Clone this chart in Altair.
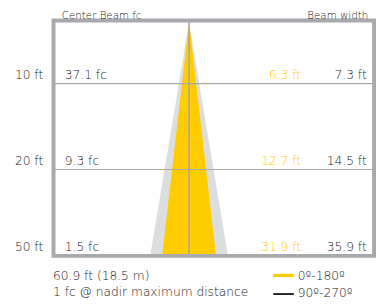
import altair as alt
import pandas as pd

# ---- data ----
levels = [1, 2, 3]
distance_labels = ["10 ft", "20 ft", "50 ft"]
center_fc = ["37.1 fc", "9.3 fc", "1.5 fc"]
width_0_180 = ["6.3 ft", "12.7 ft", "31.9 ft"]
width_90_270 = ["7.3 ft", "14.5 ft", "35.9 ft"]

# schematic beam cones (diagram units): apex level and bottom level, half spreads
beam_level = [0.285, 3.006]
half_0_180 = [0, 27.5]
half_90_270 = [0, 39.7]

max_distance_text = "60.9 ft (18.5 m)"
max_distance_note = "1 fc @ nadir maximum distance"
legend_labels = ["0º-180º", "90º-270º"]

# ---- styling ----
FONT = "DejaVu Sans ExtraLight, DejaVu Sans Light, DejaVu Sans"
FS = 12.5
FW = 200
TXT = "#1a1a1a"
YEL = "#FFCC00"
GRY = "#DCDDDE"
FRAME = "#A7A9AC"
W, H = 327.5, 240.5

xs = alt.Scale(domain=[-138.5, 189], nice=False, zero=False)
ys = alt.Scale(domain=[0.265, 3.006], reverse=True, nice=False, zero=False)

rows = pd.DataFrame({
    "level": levels,
    "dist": distance_labels,
    "fc": center_fc,
    "w1": width_0_180,
    "w2": width_90_270,
})

beam_gray = pd.DataFrame({
    "level": beam_level,
    "left": [-h for h in half_90_270],
    "right": half_90_270,
})
beam_yel = pd.DataFrame({
    "level": beam_level,
    "left": [-h for h in half_0_180],
    "right": half_0_180,
})
one = pd.DataFrame({"k": [0]})

gray_area = alt.Chart(beam_gray).mark_area(orient="horizontal", color=GRY).encode(
    y=alt.Y("level:Q", scale=ys, axis=None),
    x=alt.X("left:Q", scale=xs, axis=None),
    x2="right:Q",
)
yel_area = alt.Chart(beam_yel).mark_area(orient="horizontal", color=YEL).encode(
    y=alt.Y("level:Q", scale=ys, axis=None),
    x=alt.X("left:Q", scale=xs, axis=None),
    x2="right:Q",
)

grid = alt.Chart(rows).transform_filter("datum.level < 3").mark_rule(
    color="#A9A9A9", strokeWidth=1.2
).encode(y=alt.Y("level:Q", scale=ys, axis=None))

center = alt.Chart(one).mark_rule(color="#A3A3A3", strokeWidth=1.6, opacity=0.9).encode(
    x=alt.datum(0, scale=xs),
)

frame = alt.Chart(one).mark_rect(filled=False, stroke=FRAME, strokeWidth=4).encode(
    x=alt.value(0), x2=alt.value(W), y=alt.value(0), y2=alt.value(H)
)

def row_text(field, xpos, align, color):
    return alt.Chart(rows).mark_text(
        align=align, baseline="alphabetic", dy=-4.5, font=FONT, fontSize=FS,
        fontWeight=FW, color=color
    ).encode(
        x=alt.value(xpos),
        y=alt.Y("level:Q", scale=ys, axis=None),
        text=f"{field}:N",
    )

def static_text(txt, xpos, ypos, align, color=TXT, size=FS):
    return alt.Chart(one).mark_text(
        align=align, baseline="alphabetic", font=FONT, fontSize=size,
        fontWeight=FW, color=color, text=txt
    ).encode(x=alt.value(xpos), y=alt.value(ypos))

t_dist = row_text("dist", -10.5, "right", TXT)
t_fc = row_text("fc", 11.5, "left", TXT)
t_w1 = row_text("w1", 253, "right", YEL)
t_w2 = row_text("w2", 320, "right", TXT)

t_head1 = static_text("Center Beam fc", 8.5, -2.0, "left", size=10.5)
t_head2 = static_text("Beam width", 321.5, -2.0, "right", size=10.5)
t_bot1 = static_text(max_distance_text, -0.5, 265.5, "left")
t_bot2 = static_text(max_distance_note, -0.5, 281.8, "left")

leg1 = alt.Chart(one).mark_rule(color="#FFCC00", strokeWidth=3.3).encode(
    x=alt.value(224.5), x2=alt.value(245.5), y=alt.value(260.5)
)
leg2 = alt.Chart(one).mark_rule(color="#111111", strokeWidth=1.8).encode(
    x=alt.value(224.5), x2=alt.value(245.5), y=alt.value(279.5)
)
t_leg1 = static_text(legend_labels[0], 249.5, 265.0, "left")
t_leg2 = static_text(legend_labels[1], 249.5, 282.2, "left")

chart = alt.layer(
    gray_area, yel_area, grid, center, frame,
    t_dist, t_fc, t_w1, t_w2, t_head1, t_head2, t_bot1, t_bot2,
    leg1, leg2, t_leg1, t_leg2,
).properties(
    width=W, height=H,
    autosize=alt.AutoSizeParams(type="none"),
    padding={"left": 46.5, "top": 9.5, "right": 3, "bottom": 49},
).configure_view(stroke=None)

chart.save("out.html", embed_options={"renderer": "svg", "actions": False})
